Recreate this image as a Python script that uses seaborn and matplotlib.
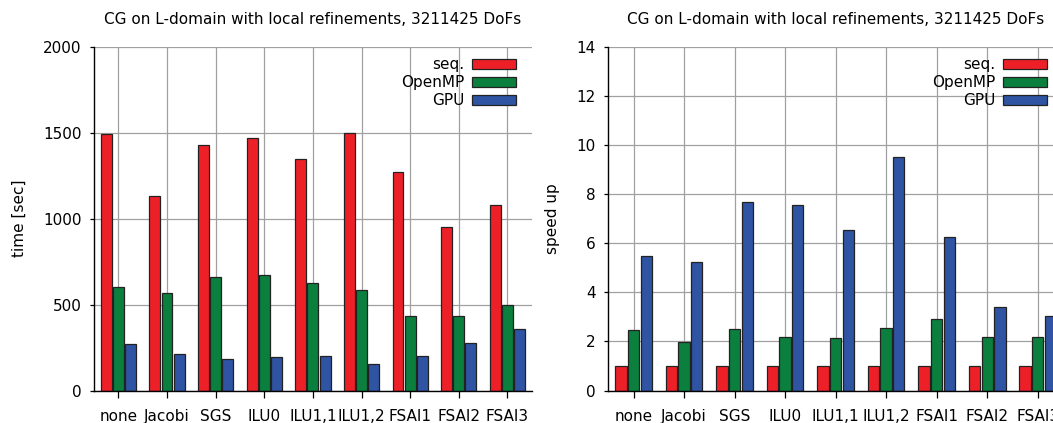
import numpy as np
import pandas as pd
import matplotlib
matplotlib.use('Agg')
import matplotlib.pyplot as plt
import seaborn as sns

# values
precond = ['none', 'Jacobi', 'SGS', 'ILU0', 'ILU1,1', 'ILU1,2', 'FSAI1', 'FSAI2', 'FSAI3']
variants = ['seq.', 'OpenMP', 'GPU']

time_seq = [1490, 1134, 1430, 1471, 1345, 1496, 1269, 950, 1081]
time_omp = [601, 570, 661, 673, 628, 587, 432, 436, 498]
time_gpu = [271, 215, 184, 194, 203, 155, 202, 277, 359]

speed_seq = [1.0, 1.0, 1.0, 1.0, 1.0, 1.0, 1.0, 1.0, 1.0]
speed_omp = [2.47, 1.99, 2.51, 2.18, 2.14, 2.55, 2.93, 2.18, 2.18]
speed_gpu = [5.48, 5.22, 7.66, 7.55, 6.53, 9.49, 6.24, 3.40, 3.04]

title = 'CG on L-domain with local refinements, 3211425 DoFs'
colors = ['#ee2027', '#0a7f3e', '#2f54a3']


def long_table(cols, name):
	rows = []
	for v, col in zip(variants, cols):
		for p, val in zip(precond, col):
			rows.append({'precond': p, 'variant': v, name: val})
	return pd.DataFrame(rows)


def draw(ax, df, name, ymax, ystep, ylabel):
	sns.barplot(data=df, x='precond', y=name, hue='variant', hue_order=variants,
				order=precond, palette=colors, width=0.75, gap=0.1,
				edgecolor='#222222', linewidth=0.9, saturation=1, ax=ax, errorbar=None)
	ax.set_xlim(-0.5, 8.5)
	ax.set_ylim(0, ymax)
	ax.set_yticks(np.arange(0, ymax + 1e-9, ystep))
	ax.set_axisbelow(True)
	ax.grid(True, color='#a0a0a0', linewidth=0.9)
	for s in ['top', 'right']:
		ax.spines[s].set_visible(False)
	for s in ['left', 'bottom']:
		ax.spines[s].set_color('black')
		ax.spines[s].set_linewidth(1.0)
	ax.tick_params(axis='y', left=True, direction='out', length=3, width=0.9,
				   color='black', labelcolor='black', labelsize=11, pad=6)
	ax.tick_params(axis='x', bottom=True, direction='out', length=5, width=0.9,
				   color='black', labelcolor='black', labelsize=11, pad=8)
	ax.set_xlabel('')
	ax.set_ylabel(ylabel, fontsize=11, labelpad=12, color='black')
	ax.set_title(title, fontsize=11, pad=16, color='black')
	handles, labels = ax.get_legend_handles_labels()
	leg = ax.legend(handles, labels, loc='upper right', frameon=False, markerfirst=False,
					fontsize=11, handlelength=2.9, handleheight=0.6, labelspacing=0.2,
					handletextpad=0.5, borderaxespad=0.0, borderpad=0.0,
					bbox_to_anchor=(0.965, 0.969))
	for t in leg.get_texts():
		t.set_color('black')


sns.set_theme(style='white')
plt.rcParams['font.family'] = ['DejaVu Sans']

fig = plt.figure(figsize=(10.53, 4.23), dpi=100)
ax1 = fig.add_axes([0.0893, 0.0768, 0.4157, 0.813])
ax2 = fig.add_axes([0.5777, 0.0768, 0.4318, 0.813])

draw(ax1, long_table([time_seq, time_omp, time_gpu], 'time'), 'time', 2000, 500, 'time [sec]')
draw(ax2, long_table([speed_seq, speed_omp, speed_gpu], 'speed'), 'speed', 14, 2, 'speed up')

fig.savefig('out.png', dpi=100)
